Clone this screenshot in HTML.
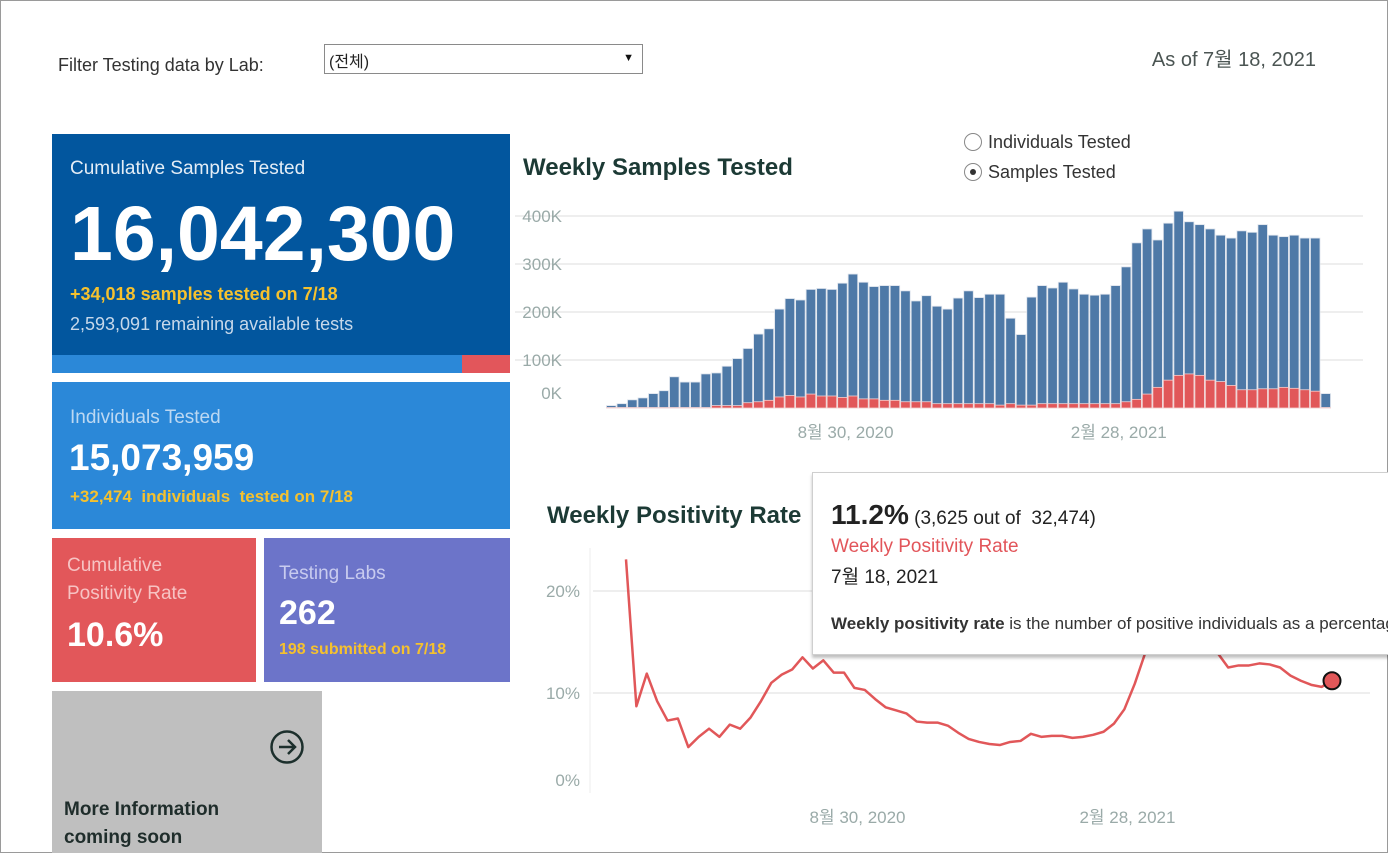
<!DOCTYPE html>
<html><head><meta charset="utf-8">
<style>
*{box-sizing:border-box;margin:0;padding:0}
body{width:1388px;height:853px;overflow:hidden;background:#fff;font-family:"Liberation Sans","Noto Sans CJK KR",sans-serif;position:relative}
.abs{position:absolute;white-space:nowrap}
#frame{position:absolute;left:0;top:0;width:1388px;height:853px;border:1px solid #9a9a9a;pointer-events:none}
.card{position:absolute}
</style></head><body>
<div id="frame"></div>
<div class="abs" style="left:58px;top:55px;font-size:18px;color:#333">Filter Testing data by Lab:</div>
<div class="abs" style="left:324px;top:44px;width:319px;height:30px;border:1px solid #8a8a8a;background:#fff">
  <span style="position:absolute;left:4px;top:3px;font-size:16px;color:#222">(전체)</span>
  <span style="position:absolute;right:8px;top:7px;font-size:11px;color:#111">▼</span>
</div>
<div class="abs" style="right:72px;top:43px;font-size:20px;color:#4b5553">As of 7월 18, 2021</div>

<div class="card" style="left:52px;top:134px;width:458px;height:221px;background:#02569e">
  <div class="abs" style="left:18px;top:24px;font-size:19px;color:#e4edf6">Cumulative Samples Tested</div>
  <div class="abs" style="left:18px;top:56px;font-size:77px;font-weight:bold;color:#fff;letter-spacing:0px">16,042,300</div>
  <div class="abs" style="left:18px;top:150px;font-size:18px;font-weight:bold;color:#f5c12e">+34,018 samples tested on 7/18</div>
  <div class="abs" style="left:18px;top:180px;font-size:18px;color:#c7d8ea">2,593,091 remaining available tests</div>
</div>
<div class="card" style="left:52px;top:355px;width:458px;height:18px;background:#2b88d8">
  <div style="position:absolute;left:410px;top:0;width:48px;height:18px;background:#e2565b"></div>
</div>

<div class="card" style="left:52px;top:382px;width:458px;height:147px;background:#2b88d8">
  <div class="abs" style="left:18px;top:25px;font-size:19px;color:#bcd8f2">Individuals Tested</div>
  <div class="abs" style="left:17px;top:55px;font-size:37px;font-weight:bold;color:#fff">15,073,959</div>
  <div class="abs" style="left:18px;top:105px;font-size:17px;font-weight:bold;color:#f5c12e">+32,474 &nbsp;individuals &nbsp;tested on 7/18</div>
</div>

<div class="card" style="left:52px;top:538px;width:204px;height:144px;background:#e2575a">
  <div class="abs" style="left:15px;top:14px;font-size:19px;line-height:28px;color:#f7c3c3;white-space:normal;width:150px">Cumulative Positivity Rate</div>
  <div class="abs" style="left:15px;top:78px;font-size:34px;font-weight:bold;color:#fff">10.6%</div>
</div>
<div class="card" style="left:264px;top:538px;width:246px;height:144px;background:#6c74c9">
  <div class="abs" style="left:15px;top:25px;font-size:19px;color:#c8cbef">Testing Labs</div>
  <div class="abs" style="left:15px;top:56px;font-size:34px;font-weight:bold;color:#fff">262</div>
  <div class="abs" style="left:15px;top:103px;font-size:16px;font-weight:bold;color:#f5c12e">198 submitted on 7/18</div>
</div>
<div class="card" style="left:52px;top:691px;width:270px;height:162px;background:#bfbfbf">
  <svg style="position:absolute;left:217px;top:38px" width="36" height="36" viewBox="0 0 36 36">
    <circle cx="18" cy="18" r="15.5" fill="none" stroke="#1c2f2c" stroke-width="2.5"/>
    <path d="M10 18H25M19 11L26 18L19 25" fill="none" stroke="#1c2f2c" stroke-width="2.5"/>
  </svg>
  <div class="abs" style="left:12px;top:105px;font-size:19px;font-weight:bold;line-height:28px;color:#1f2d2b">More Information<br>coming soon</div>
</div>

<div class="abs" style="left:523px;top:154px;font-size:24px;font-weight:bold;color:#1c3a35">Weekly Samples Tested</div>
<div class="abs" style="left:964px;top:132px;font-size:18px;color:#333">
  <span style="display:inline-block;width:18px;height:18px;border:1px solid #888;border-radius:50%;vertical-align:-3px;margin-right:6px"></span>Individuals Tested</div>
<div class="abs" style="left:964px;top:162px;font-size:18px;color:#333">
  <span style="display:inline-block;width:18px;height:18px;border:1px solid #888;border-radius:50%;vertical-align:-3px;margin-right:6px;position:relative"><span style="position:absolute;left:5px;top:5px;width:6px;height:6px;border-radius:50%;background:#333"></span></span>Samples Tested</div>

<svg id="bars" style="position:absolute;left:0;top:0" width="1388" height="460"></svg>

<div class="abs" style="left:547px;top:502px;font-size:24px;font-weight:bold;color:#1c3a35">Weekly Positivity Rate</div>
<svg id="line" style="position:absolute;left:0;top:0" width="1388" height="853"></svg>

<div class="card" style="left:812px;top:472px;width:590px;height:183px;background:#fff;border:1px solid #cfcfcf;box-shadow:0 3px 3px rgba(0,0,0,0.25)">
  <div class="abs" style="left:18px;top:26px;color:#222"><span style="font-size:28px;font-weight:bold">11.2%</span><span style="font-size:19px"> (3,625 out of &nbsp;32,474)</span></div>
  <div class="abs" style="left:18px;top:63px;font-size:19px;color:#e2555a">Weekly Positivity Rate</div>
  <div class="abs" style="left:18px;top:89px;font-size:19px;color:#222">7월 18, 2021</div>
  <div class="abs" style="left:18px;top:141px;font-size:17px;color:#333"><b>Weekly positivity rate</b> is the number of positive individuals as a percentage</div>
</div>

<script>
const barTotals=[5,9,17,21,30,36,65,54,54,71,73,87,103,124,154,165,206,228,225,247,249,247,260,279,262,253,255,255,244,223,234,212,206,229,244,230,237,237,187,153,231,255,250,262,248,237,235,237,255,294,344,373,350,385,410,388,382,373,360,354,369,366,382,360,357,360,354,354,30];
const barPositives=[1,1,1,1,1,1,1,1,1,1,5,5,5,11,13,16,23,26,23,29,25,25,22,25,19,19,16,16,13,13,13,9,9,9,9,9,9,6,9,6,6,9,9,9,9,9,9,9,9,13,18,29,43,58,68,71,68,58,55,47,38,38,40,40,43,41,38,35,1];
const barTicks=[0,100,200,300,400];
const rateValues=[23.1,8.7,11.9,9.2,7.3,7.5,4.7,5.7,6.5,5.7,6.9,6.5,7.6,9.2,11.0,11.8,12.3,13.5,12.4,13.2,12.0,12.0,10.5,10.3,9.4,8.6,8.3,8.0,7.2,7.1,7.1,6.8,6.1,5.5,5.2,5.0,4.9,5.2,5.3,6.0,5.7,5.8,5.8,5.6,5.7,5.9,6.2,7.0,8.4,10.9,13.9,17.5,20.5,22.0,22.5,20.5,17.0,13.9,12.5,12.7,12.7,12.9,12.8,12.5,11.7,11.2,10.8,10.6,11.2];
const rateTicks=[0,10,20];
const dateLabels=["8월 30, 2020","2월 28, 2021"];
const dateIndex=[22.3,48.3];

const NS="http://www.w3.org/2000/svg";
function mk(p,t,a){const e=document.createElementNS(NS,t);for(const k in a)e.setAttribute(k,a[k]);p.appendChild(e);return e;}

const bs=document.getElementById('bars');
const bx0=606,bw=(1331-606)/barTotals.length;
const by=v=>408-v*0.48;
const bxc=i=>bx0+bw*(i+0.5);
barTicks.forEach(t=>{
  if(t>0){const g=mk(bs,'line',{x1:515,x2:1363,y1:by(t),y2:by(t),stroke:'#e8e8e8','stroke-width':1.5});
  
  }
  const l=mk(bs,'text',{x:562,y:t===0?399:by(t)+6,'text-anchor':'end','font-size':17,fill:'#9aaaa8','font-family':'Liberation Sans, sans-serif'});
  l.textContent=t+'K';
  
  
});
barTotals.forEach((v,i)=>{
  const x=bx0+bw*i+0.5,w=bw-1;
  const r=mk(bs,'rect',{x:x,y:by(v),width:w,height:by(0)-by(v),fill:'#4e79a7',stroke:'#dde3ec','stroke-width':0.8});
  
  
  const p=barPositives[i];
  const q=mk(bs,'rect',{x:x,y:by(p),width:w,height:by(0)-by(p),fill:'#e15759',stroke:'#f3d0d0','stroke-width':0.8});
  
  
});
dateLabels.forEach((d,k)=>{
  const t=mk(bs,'text',{x:bxc(dateIndex[k]),y:438,'text-anchor':'middle','font-size':17,fill:'#9aaaa8','font-family':'Liberation Sans, Noto Sans CJK KR, sans-serif'});
  t.textContent=d;
  
  
});

const ls=document.getElementById('line');
const lx0=626,ldx=(1332-626)/(rateValues.length-1);
const lx=i=>lx0+ldx*i, ly=v=>795-v*10.2;
const ax=mk(ls,'line',{x1:590,x2:590,y1:548,y2:793,stroke:'#eeeeee','stroke-width':1});


rateTicks.forEach(t=>{
  if(t>0){const g=mk(ls,'line',{x1:593,x2:1370,y1:ly(t),y2:ly(t),stroke:'#e8e8e8','stroke-width':1.5});
  
  }
  const l=mk(ls,'text',{x:580,y:t===0?786:ly(t)+6,'text-anchor':'end','font-size':17,fill:'#9aaaa8','font-family':'Liberation Sans, sans-serif'});
  l.textContent=t+'%';
  
  
});
const pl=mk(ls,'polyline',{points:rateValues.map((v,i)=>lx(i)+','+ly(v)).join(' '),fill:'none',stroke:'#e15759','stroke-width':2.5,'stroke-linejoin':'round'});


const li=rateValues.length-1;
const dot=mk(ls,'circle',{cx:lx(li),cy:ly(rateValues[li]),r:8.5,fill:'#e15759',stroke:'#111','stroke-width':2});


dateLabels.forEach((d,k)=>{
  const t=mk(ls,'text',{x:lx(dateIndex[k]),y:823,'text-anchor':'middle','font-size':17,fill:'#9aaaa8','font-family':'Liberation Sans, Noto Sans CJK KR, sans-serif'});
  t.textContent=d;
  
  
});
</script>
</body></html>
